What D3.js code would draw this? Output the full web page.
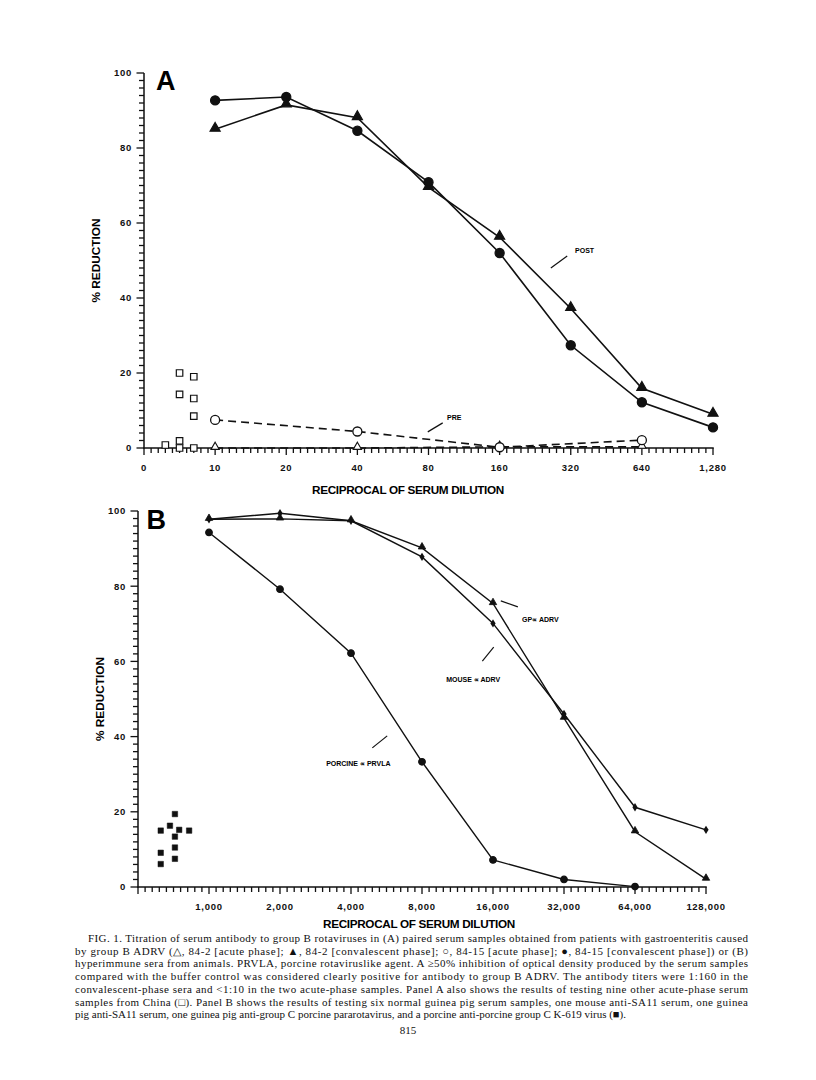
<!DOCTYPE html>
<html lang="en">
<head>
<meta charset="utf-8">
<title>Fig. 1 - titration of serum antibody to group B rotaviruses</title>
<script src="https://d3js.org/d3.v7.min.js"></script>
<style>
  body { margin: 0; background: #fff; }
  svg { display: block; }
</style>
</head>
<body>
<script>
// ---- panel A data ----
var catsA = ["0", "10", "20", "40", "80", "160", "320", "640", "1,280"];
var dilA = [10, 20, 40, 80, 160, 320, 640, 1280];
var convCircleA = [92.7, 93.6, 84.6, 70.9, 52.0, 27.4, 12.2, 5.5];   // 84-15 convalescent
var convTriA = [85.0, 91.5, 88.1, 69.5, 56.2, 37.2, 15.9, 9.0];      // 84-2 convalescent
var acuteDilA = [10, 40, 160, 640];
var acuteCircleA = [7.5, 4.4, 0.2, 2.1];                             // 84-15 acute
var acuteTriA = [0, 0, 0.3, 0.3];                                    // 84-2 acute
// nine other acute-phase sera from China (dilution below 1:10)
var chinaX = [3, 5, 5, 5, 5, 7, 7, 7, 7];
var chinaY = [0.8, 20.0, 14.3, 1.9, 0.0, 19.0, 13.2, 8.5, 0.0];

// ---- panel B data ----
var catsB = ["1,000", "2,000", "4,000", "8,000", "16,000", "32,000", "64,000", "128,000"];
var dilB = [1000, 2000, 4000, 8000, 16000, 32000, 64000, 128000];
var gpB = [97.8, 97.9, 97.4, 90.2, 75.4, 44.9, 14.7, 2.1];          // GP anti ADRV (triangles)
var mouseB = [97.8, 99.4, 97.4, 87.8, 70.1, 46.0, 21.2, 15.2];       // mouse anti ADRV (diamonds)
var porcDilB = [1000, 2000, 4000, 8000, 16000, 32000, 64000];
var porcineB = [94.3, 79.2, 62.2, 33.3, 7.2, 2.0, 0.1];              // porcine anti PRVLA (circles)
var ctrlX = [320, 320, 320, 450, 520, 520, 520, 520, 580, 720];
var ctrlY = [15.0, 9.1, 6.1, 16.3, 19.4, 13.4, 10.5, 7.5, 15.2, 15.0];

var yTicks = [0, 20, 40, 60, 80, 100];

var caption = [
  "FIG. 1. Titration of serum antibody to group B rotaviruses in (A) paired serum samples obtained from patients with gastroenteritis caused",
  "by group B ADRV (\u25B3, 84-2 [acute phase]; \u25B2, 84-2 [convalescent phase]; \u25CB, 84-15 [acute phase]; \u25CF, 84-15 [convalescent phase]) or (B)",
  "hyperimmune sera from animals. PRVLA, porcine rotaviruslike agent. A \u226550% inhibition of optical density produced by the serum samples",
  "compared with the buffer control was considered clearly positive for antibody to group B ADRV. The antibody titers were 1:160 in the",
  "convalescent-phase sera and <1:10 in the two acute-phase samples. Panel A also shows the results of testing nine other acute-phase serum",
  "samples from China (\u25A1). Panel B shows the results of testing six normal guinea pig serum samples, one mouse anti-SA11 serum, one guinea",
  "pig anti-SA11 serum, one guinea pig anti-group C porcine pararotavirus, and a porcine anti-porcine group C K-619 virus (\u25A0)."
];

var width = 816, height = 1080;
var svg = d3.select("body").append("svg")
  .attr("width", width)
  .attr("height", height);

var sans = "'Liberation Sans', Arial, sans-serif";
var ink = "#111";

// draws one panel frame: axes, ticks, labels; returns scales
function panel(opt) {
  var g = svg.append("g");
  var xPos = d3.scaleLinear().domain([0, 8]).range([opt.x0, opt.x1]);
  var y = d3.scaleLinear().domain([0, 100]).range([opt.y0, opt.y1]);
  // low part (below first labelled dilution) is linear, rest is log2
  var xLow = d3.scaleLinear().domain([0, opt.first]).range([xPos(0), xPos(1)]);
  var xLog = d3.scaleLog().base(2).domain([opt.first, opt.first * 128]).range([xPos(1), xPos(8)]);
  var x = function(d) { return d < opt.first ? xLow(d) : xLog(d); };

  // axis lines
  g.append("rect").attr("x", opt.x0 - 0.75).attr("y", y(100)).attr("width", 1.5)
    .attr("height", y(0) - y(100) + 0.75).attr("fill", ink);
  g.append("rect").attr("x", opt.x0 - 0.75).attr("y", y(0) - 0.75)
    .attr("width", xPos(8) - opt.x0 + 1.5).attr("height", 1.5).attr("fill", ink);

  // tick comb drawn as small filled rects
  g.selectAll(null).data(d3.range(0, 101, 2)).enter().append("rect")
    .attr("x", function(d) { return opt.x0 - (d % 20 === 0 ? 7.5 : 5); })
    .attr("width", function(d) { return d % 20 === 0 ? 7.5 : 5; })
    .attr("y", function(d) { return y(d) - 0.65; })
    .attr("height", 1.3)
    .attr("fill", ink);
  g.selectAll(null).data(d3.range(0, 81)).enter().append("rect")
    .attr("x", function(k) { return xPos(k / 10) - 0.65; })
    .attr("width", 1.3)
    .attr("y", y(0))
    .attr("height", function(k) { return k % 10 === 0 ? 7 : 5; })
    .attr("fill", ink);

  g.selectAll(null).data(yTicks).enter().append("text")
    .attr("x", opt.x0 - 12).attr("y", function(d) { return y(d); })
    .attr("dy", "0.35em").attr("text-anchor", "end")
    .attr("font-family", sans).attr("font-weight", "bold").attr("font-size", 9.5)
    .attr("letter-spacing", 0.7).attr("fill", ink)
    .text(function(d) { return d; });
  g.selectAll(null).data(opt.cats).enter().append("text")
    .attr("x", function(d, i) { return xPos(i + opt.catOffset); })
    .attr("y", y(0) + 23)
    .attr("text-anchor", "middle")
    .attr("font-family", sans).attr("font-weight", "bold").attr("font-size", 9.5)
    .attr("letter-spacing", 0.7).attr("fill", ink)
    .text(function(d) { return d; });

  // titles
  g.append("text")
    .attr("transform", "translate(" + opt.yTitleX + "," + y(50) + ") rotate(-90)")
    .attr("text-anchor", "middle").attr("dy", "0.35em")
    .attr("font-family", sans).attr("font-weight", "bold").attr("font-size", 10)
    .attr("textLength", 84).attr("lengthAdjust", "spacingAndGlyphs")
    .text("% REDUCTION");
  g.append("text")
    .attr("x", opt.xTitleX).attr("y", opt.xTitleY)
    .attr("text-anchor", "middle")
    .attr("font-family", sans).attr("font-weight", "bold").attr("font-size", 10.5)
    .attr("textLength", 192).attr("lengthAdjust", "spacingAndGlyphs")
    .attr("letter-spacing", -0.3)
    .text("RECIPROCAL OF SERUM DILUTION");
  g.append("text")
    .attr("x", xPos(opt.letterPos[0])).attr("y", y(opt.letterPos[1]))
    .attr("font-family", sans).attr("font-weight", "bold").attr("font-size", 27)
    .text(opt.letter);

  return { g: g, x: x, xPos: xPos, y: y };
}

function line(g, x, y, xs, ys, w, dash) {
  var pts = xs.map(function(d, i) { return [x(d), y(ys[i])]; });
  g.append("path").attr("d", d3.line()(pts))
    .attr("fill", "none").attr("stroke", ink).attr("stroke-width", w)
    .attr("stroke-dasharray", dash || null);
}

function markers(g, x, y, xs, ys, type, size, filled, sw) {
  var sym = d3.symbol().type(type).size(size);
  g.selectAll(null).data(xs).enter().append("path")
    .attr("d", sym)
    .attr("transform", function(d, i) {
      var yy = y(ys[i]);
      if (type === d3.symbolTriangle) yy -= 1;
      return "translate(" + x(d) + "," + yy + ")";
    })
    .attr("fill", filled ? ink : "#fff")
    .attr("stroke", ink).attr("stroke-width", sw || 1.2);
}

function note(g, P, text, tx, ty, ax0, ay0, ax1, ay1, fs) {
  g.append("text").attr("x", P.xPos(tx)).attr("y", P.y(ty))
    .attr("font-family", sans).attr("font-weight", "bold").attr("font-size", fs || 7)
    .text(text);
  g.append("line")
    .attr("x1", P.xPos(ax0)).attr("y1", P.y(ay0))
    .attr("x2", P.xPos(ax1)).attr("y2", P.y(ay1))
    .attr("stroke", ink).attr("stroke-width", 1.2);
}

// ---------- panel A ----------
var A = panel({ x0: 144, x1: 713, y0: 448, y1: 73, first: 10, cats: catsA, catOffset: 0,
  yTitleX: 96, xTitleX: 408, xTitleY: 494, letter: "A", letterPos: [0.17, 95.5] });

line(A.g, A.x, A.y, acuteDilA, acuteTriA, 1.6, "8,5");
line(A.g, A.x, A.y, acuteDilA, acuteCircleA, 1.6, "8,5");
line(A.g, A.x, A.y, dilA, convTriA, 1.6);
line(A.g, A.x, A.y, dilA, convCircleA, 1.6);
markers(A.g, A.x, A.y, acuteDilA, acuteTriA, d3.symbolTriangle, 30, false, 1.1);
markers(A.g, A.x, A.y, acuteDilA, acuteCircleA, d3.symbolCircle, 64, false, 1.3);
markers(A.g, A.x, A.y, dilA, convTriA, d3.symbolTriangle, 44, true);
markers(A.g, A.x, A.y, dilA, convCircleA, d3.symbolCircle, 66, true);
markers(A.g, A.x, A.y, chinaX, chinaY, d3.symbolSquare, 42, false, 1.2);

note(A.g, A, "POST", 6.06, 52, 5.95, 51.2, 5.72, 48);
note(A.g, A, "PRE", 4.26, 7.5, 4.2, 6.7, 3.99, 4.3);

// ---------- panel B ----------
var B = panel({ x0: 138, x1: 706, y0: 887, y1: 511, first: 1000, cats: catsB, catOffset: 1,
  yTitleX: 100, xTitleX: 419, xTitleY: 928, letter: "B", letterPos: [0.12, 95.3] });

line(B.g, B.x, B.y, porcDilB, porcineB, 1.4);
line(B.g, B.x, B.y, dilB, gpB, 1.4);
line(B.g, B.x, B.y, dilB, mouseB, 1.4);
markers(B.g, B.x, B.y, porcDilB, porcineB, d3.symbolCircle, 34, true);
markers(B.g, B.x, B.y, dilB, gpB, d3.symbolTriangle, 24, true, 0.8);
B.g.selectAll(null).data(dilB).enter().append("path")
  .attr("d", "M0,-4.2L2.6,0L0,4.2L-2.6,0Z")
  .attr("transform", function(d, i) { return "translate(" + B.x(d) + "," + B.y(mouseB[i]) + ")"; })
  .attr("fill", ink);
markers(B.g, B.x, B.y, ctrlX, ctrlY, d3.symbolSquare, 30, true, 0.5);

note(B.g, B, "GP\u221D  ADRV", 5.41, 70.5, 5.35, 74.5, 5.11, 76.1);
note(B.g, B, "MOUSE \u221D ADRV", 4.34, 54.5, 4.85, 60.1, 5.01, 63.8);
note(B.g, B, "PORCINE \u221D PRVLA", 2.65, 32.2, 3.30, 37.0, 3.51, 40.2);

// ---------- caption ----------
var cap = svg.append("g").attr("font-family", "'Liberation Serif', 'Times New Roman', serif")
  .attr("font-size", 11).attr("fill", ink);
cap.selectAll("text").data(caption).enter().append("text")
  .attr("x", function(d, i) { return i === 0 ? 88 : 75; })
  .attr("y", function(d, i) { return 942 + i * 12.7; })
  .attr("textLength", function(d, i) { return i === caption.length - 1 ? null : (i === 0 ? 660 : 673); })
  .attr("lengthAdjust", "spacing")
  .text(function(d) { return d; });
cap.append("text").attr("x", 408).attr("y", 1034).attr("text-anchor", "middle").text("815");
</script>
</body>
</html>
